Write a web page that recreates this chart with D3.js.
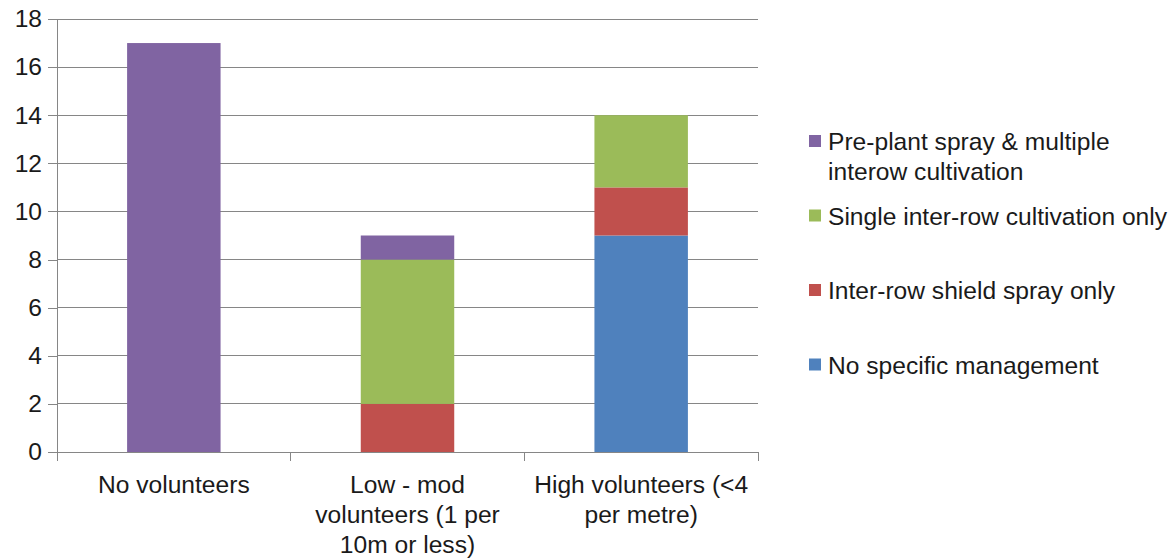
<!DOCTYPE html>
<html>
<head>
<meta charset="utf-8">
<script src="https://cdn.jsdelivr.net/npm/d3@7"></script>
<style>
  html, body { margin: 0; padding: 0; background: #fff; }
  svg { display: block; font-family: "Liberation Sans", Arial, sans-serif; }
</style>
</head>
<body>
<svg id="chart" width="1176" height="558"></svg>
<script>
// Categories along the x axis
const categories = [
  "No volunteers",
  "Low - mod volunteers (1 per 10m or less)",
  "High volunteers (<4 per metre)"
];

// Series, stacked bottom to top
const seriesNames = [
  "No specific management",
  "Inter-row shield spray only",
  "Single inter-row cultivation only",
  "Pre-plant spray & multiple interow cultivation"
];
const noSpecificManagement = [0, 0, 9];
const shieldSprayOnly      = [0, 2, 2];
const singleCultivation    = [0, 6, 3];
const prePlantMultiple     = [17, 1, 0];

const seriesColors = ["#4F81BD", "#C0504D", "#9BBB59", "#8064A2"];

const yTicks = [0, 2, 4, 6, 8, 10, 12, 14, 16, 18];

// Legend text, split into lines as displayed (top to bottom)
const legendLines = [
  ["Pre-plant spray & multiple", "interow cultivation"],
  ["Single inter-row cultivation only"],
  ["Inter-row shield spray only"],
  ["No specific management"]
];

// Build rows for d3.stack
const seriesValues = [noSpecificManagement, shieldSprayOnly, singleCultivation, prePlantMultiple];
const rows = categories.map((c, i) => {
  const r = { category: c };
  seriesNames.forEach((s, k) => { r[s] = seriesValues[k][i]; });
  return r;
});
const stacked = d3.stack().keys(seriesNames)(rows);

const svg = d3.select("#chart");
const margin = { left: 57, right: 418, top: 19, bottom: 106 };
const W = 1176, H = 558;
const plotW = W - margin.left - margin.right;
const plotH = H - margin.top - margin.bottom;
const fontSize = 24.6;

const x = d3.scaleBand().domain(categories).range([margin.left, margin.left + plotW]).padding(0);
const y = d3.scaleLinear().domain([0, 18]).range([margin.top + plotH, margin.top]);
const barW = x.bandwidth() * 0.4;

const gridColor = "#868686";
const textColor = "#1a1a1a";

// Horizontal gridlines
svg.append("g")
  .selectAll("line")
  .data(yTicks.filter(t => t > 0))
  .join("line")
  .attr("x1", margin.left).attr("x2", margin.left + plotW)
  .attr("y1", d => y(d)).attr("y2", d => y(d))
  .attr("stroke", gridColor).attr("stroke-width", 1)
  .attr("shape-rendering", "crispEdges");

// Stacked bars
svg.append("g")
  .selectAll("g")
  .data(stacked)
  .join("g")
  .attr("fill", (d, i) => seriesColors[i])
  .selectAll("rect")
  .data(d => d.filter(s => s[1] - s[0] > 0))
  .join("rect")
  .attr("x", d => x(d.data.category) + (x.bandwidth() - barW) / 2)
  .attr("width", barW)
  .attr("y", d => y(d[1]))
  .attr("height", d => y(d[0]) - y(d[1]));

// Y axis
const yAxis = d3.axisLeft(y).tickValues(yTicks).tickSize(9).tickPadding(6);
const gy = svg.append("g")
  .attr("transform", `translate(${margin.left},0)`)
  .call(yAxis);
gy.select(".domain").attr("stroke", gridColor).attr("shape-rendering", "crispEdges");
gy.selectAll(".tick line").attr("stroke", gridColor).attr("shape-rendering", "crispEdges");
gy.selectAll(".tick text")
  .attr("font-size", fontSize).attr("fill", textColor)
  .attr("font-family", "Liberation Sans, Arial, sans-serif");

// X axis: category boundaries get ticks, labels centered beneath each band
const boundaries = categories.map(c => x(c)).concat([x(categories[categories.length - 1]) + x.bandwidth()]);
const gx = svg.append("g");
gx.append("line")
  .attr("x1", margin.left).attr("x2", margin.left + plotW)
  .attr("y1", y(0)).attr("y2", y(0))
  .attr("stroke", gridColor).attr("shape-rendering", "crispEdges");
gx.selectAll("line.tick")
  .data(boundaries)
  .join("line")
  .attr("class", "tick")
  .attr("x1", d => d).attr("x2", d => d)
  .attr("y1", y(0)).attr("y2", y(0) + 9)
  .attr("stroke", gridColor).attr("shape-rendering", "crispEdges");

// Wrap category labels into the band width
function wrapLabel(textSel, width) {
  textSel.each(function (d) {
    const t = d3.select(this);
    const words = d.split(/\s+/);
    const lines = [];
    let line = [];
    const probe = t.append("tspan");
    words.forEach(w => {
      line.push(w);
      probe.text(line.join(" "));
      if (probe.node().getComputedTextLength() > width && line.length > 1) {
        line.pop();
        lines.push(line.join(" "));
        line = [w];
      }
    });
    lines.push(line.join(" "));
    probe.remove();
    lines.forEach((l, i) => {
      t.append("tspan").attr("x", 0).attr("dy", i === 0 ? 0 : 30).text(l);
    });
  });
}

gx.selectAll("text.cat")
  .data(categories)
  .join("text")
  .attr("class", "cat")
  .attr("transform", d => `translate(${x(d) + x.bandwidth() / 2},${y(0) + 41})`)
  .attr("text-anchor", "middle")
  .attr("font-size", fontSize)
  .attr("fill", textColor)
  .call(wrapLabel, x.bandwidth() - 8);

// Legend
const legendColors = seriesColors.slice().reverse();
const legend = svg.append("g").attr("transform", "translate(809,150)");
const item = legend.selectAll("g")
  .data(legendLines)
  .join("g")
  .attr("transform", (d, i) => `translate(0,${i * 74.5})`);
item.append("rect")
  .attr("x", 0).attr("y", -15)
  .attr("width", 12).attr("height", 12)
  .attr("fill", (d, i) => legendColors[i]);
item.append("text")
  .attr("x", 19).attr("y", 0)
  .attr("font-size", fontSize)
  .attr("fill", textColor)
  .selectAll("tspan")
  .data(d => d)
  .join("tspan")
  .attr("x", 19)
  .attr("dy", (d, i) => i === 0 ? 0 : 30)
  .text(d => d);
</script>
</body>
</html>
